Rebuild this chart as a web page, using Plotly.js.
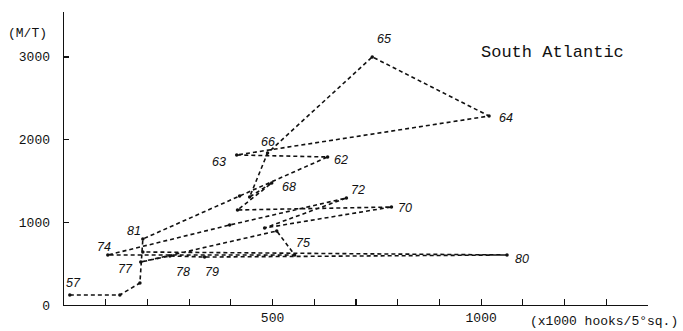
<!DOCTYPE html>
<html>
<head>
<meta charset="utf-8">
<script src="https://cdn.plot.ly/plotly-3.0.1.min.js"></script>
<style>
  html, body { margin: 0; padding: 0; background: #fff; }
  #chart { width: 683px; height: 331px; }
</style>
</head>
<body>
<div id="chart"></div>
<script>
// Year of each point (1957-1981), in drawing order
const years = ['57','58','59','60','61','62','63','64','65','66','67','68','69',
               '70','71','72','73','74','75','76','77','78','79','80','81'];
// Effort (x1000 hooks / 5° sq.)
const effort = [14, 134, 182, 189, 421, 632, 414, 1019, 739, 488, 445, 498, 416,
                785, 481, 677, 397, 105, 553, 510, 184, 254, 337, 1062, 189];
// Catch (M/T)
const catchMT = [121, 121, 266, 798, 1318, 1790, 1814, 2285, 3000, 1838, 1306, 1475, 1149,
                 1185, 931, 1294, 967, 605, 605, 895, 520, 593, 580, 605, 641];
// Years that carry a label on the chart
const labeledYears = ['57','62','63','64','65','66','68','70','72','74','75','77','78','79','80','81'];
// Axis tick values / labels
const yTickVals = [0, 1000, 2000, 3000];
const xTickVals = [0,100,200,300,400,500,600,700,800,900,1000,1100,1200,1300,1400];
const xTickLabelled = [500, 1000];

// label placement (pixel offsets from the point) - layout only
const labelOffset = {
  '57':[4,-12], '62':[13,3], '63':[-18,7], '64':[17,2], '65':[12,-18], '66':[0,-11],
  '68':[17,4], '70':[14,1], '72':[12,-8], '74':[-4,-8], '75':[8,-12], '77':[-15,7],
  '78':[13,16], '79':[7,15], '80':[15,4], '81':[-9,-21]
};

const trace = {
  x: effort, y: catchMT, type: 'scatter', mode: 'lines+markers',
  line: {color: '#111', width: 1.6, dash: '4px,3px'},
  marker: {color: '#111', size: 3.5},
  hoverinfo: 'skip'
};

const annotations = labeledYears.map(yr => {
  const i = years.indexOf(yr);
  const off = labelOffset[yr];
  return {
    x: effort[i], y: catchMT[i], xref: 'x', yref: 'y',
    xanchor: 'center', yanchor: 'middle',
    text: '<i>' + yr + '</i>', showarrow: false,
    xshift: off[0], yshift: -off[1],
    font: {family: 'Liberation Sans, Arial, sans-serif', size: 12.5, color: '#111'}
  };
});

const monoFont = 'Liberation Mono, Courier New, monospace';
annotations.push(
  {xref: 'paper', yref: 'paper', x: -0.063, y: 0.928, xanchor: 'center', yanchor: 'middle',
   text: '(M/T)', showarrow: false,
   font: {family: monoFont, size: 13, color: '#111'}},
  {xref: 'paper', yref: 'paper', x: 0.837, y: 0.863, xanchor: 'center', yanchor: 'middle',
   text: 'South Atlantic', showarrow: false,
   font: {family: monoFont, size: 17, color: '#111'}},
  {xref: 'paper', yref: 'paper', x: 1.055, xanchor: 'right', y: -0.055, yanchor: 'middle',
   text: '(x1000 hooks/5°sq.)',
   showarrow: false, font: {family: monoFont, size: 13, color: '#111'}}
);

const layout = {
  width: 683, height: 331,
  margin: {l: 64, r: 35, t: 12, b: 26},
  paper_bgcolor: '#fff', plot_bgcolor: '#fff',
  showlegend: false,
  font: {family: monoFont, size: 13, color: '#111'},
  xaxis: {
    range: [0, 1400], showgrid: false, zeroline: false,
    showline: true, linecolor: '#111', linewidth: 1.4,
    ticks: 'inside', ticklen: 6, tickcolor: '#111', tickwidth: 1.2,
    tickmode: 'array', tickvals: xTickVals,
    ticktext: xTickVals.map(v => xTickLabelled.includes(v) ? String(v) : ''),
    tickfont: {family: monoFont, size: 13}, ticklabelstandoff: 0
  },
  yaxis: {
    range: [0, 3543], showgrid: false, zeroline: false,
    showline: true, linecolor: '#111', linewidth: 1.4,
    ticks: 'inside', ticklen: 5, tickcolor: '#111', tickwidth: 1.2,
    tickmode: 'array', tickvals: yTickVals, ticktext: yTickVals.map(String),
    tickfont: {family: monoFont, size: 13}, ticklabelstandoff: 10
  },
  annotations: annotations
};

Plotly.newPlot('chart', [trace], layout, {displayModeBar: false, staticPlot: true});
</script>
</body>
</html>
